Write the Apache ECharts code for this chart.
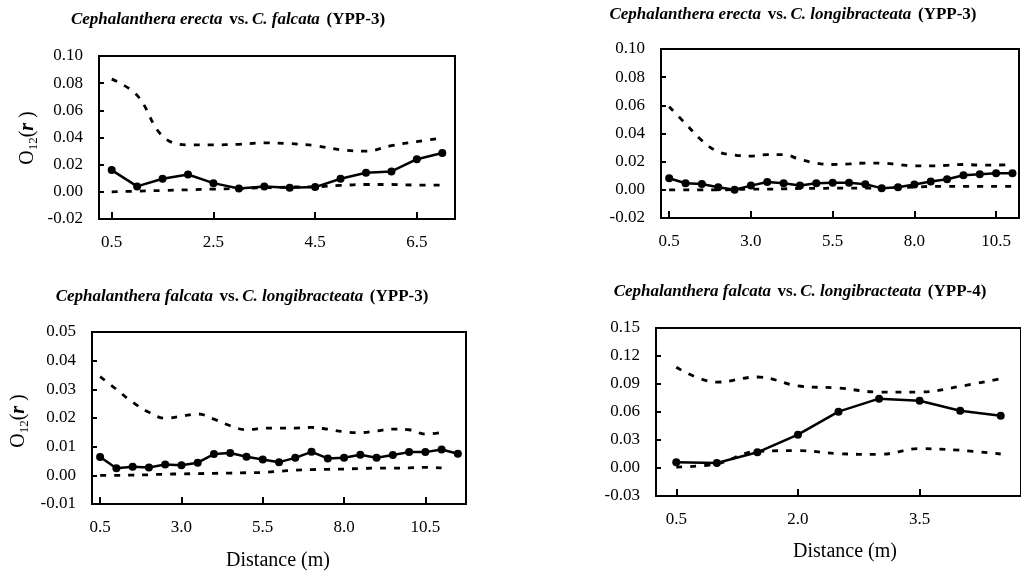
<!DOCTYPE html>
<html>
<head>
<meta charset="utf-8">
<script src="https://cdn.jsdelivr.net/npm/echarts@6/dist/echarts.min.js"></script>
<style>html,body{margin:0;padding:0;background:#fff;}#c{width:1021px;height:571px;}</style>
</head>
<body>
<div id="c"></div>
<script>
// ---- Panel 1: C. erecta vs C. falcata (YPP-3)
const dist1 = [0.5,1.0,1.5,2.0,2.5,3.0,3.5,4.0,4.5,5.0,5.5,6.0,6.5,7.0];
const obs1  = [0.016,0.004,0.0096,0.0128,0.0064,0.0025,0.004,0.003,0.0035,0.0096,0.014,0.015,0.024,0.0286];
const up1   = [0.083,0.071,0.041,0.0346,0.0346,0.035,0.036,0.0355,0.034,0.031,0.030,0.034,0.037,0.0397];
const lo1   = [0.0,0.0005,0.001,0.0015,0.002,0.0025,0.003,0.0035,0.0037,0.0047,0.0054,0.0054,0.005,0.005];
const xt1   = [0.5,2.5,4.5,6.5];

// ---- Panel 2: C. erecta vs C. longibracteata (YPP-3)
const dist2 = [0.5,1.0,1.5,2.0,2.5,3.0,3.5,4.0,4.5,5.0,5.5,6.0,6.5,7.0,7.5,8.0,8.5,9.0,9.5,10.0,10.5,11.0];
const obs2  = [0.0082,0.0047,0.0042,0.0019,0.0,0.003,0.0056,0.0047,0.003,0.0047,0.005,0.005,0.004,0.0012,0.0019,0.0038,0.0059,0.0075,0.0104,0.011,0.0118,0.0118];
const up2   = [0.059,0.047,0.035,0.027,0.0247,0.024,0.025,0.025,0.0216,0.019,0.018,0.0184,0.019,0.019,0.018,0.017,0.017,0.0174,0.018,0.0176,0.0176,0.018];
const lo2   = [0.0,0.0,0.0,0.0,0.0002,0.0005,0.0005,0.0007,0.001,0.001,0.0012,0.0012,0.0012,0.0014,0.0016,0.0019,0.0024,0.0024,0.0024,0.0024,0.0024,0.0024];
const xt2   = [0.5,3.0,5.5,8.0,10.5];

// ---- Panel 3: C. falcata vs C. longibracteata (YPP-3)
const dist3 = [0.5,1.0,1.5,2.0,2.5,3.0,3.5,4.0,4.5,5.0,5.5,6.0,6.5,7.0,7.5,8.0,8.5,9.0,9.5,10.0,10.5,11.0,11.5];
const obs3  = [0.0064,0.0025,0.003,0.0027,0.0038,0.0035,0.0044,0.0074,0.0078,0.0065,0.0055,0.0046,0.0061,0.0082,0.0059,0.0061,0.0072,0.0061,0.0071,0.0081,0.0081,0.009,0.0075];
const up3   = [0.0344,0.030,0.0255,0.022,0.0199,0.0206,0.0214,0.0196,0.0173,0.0159,0.0164,0.0165,0.0165,0.0167,0.0161,0.0152,0.0149,0.0155,0.0161,0.0159,0.0144,0.0150];
const lo3   = [0.0,0.0,0.0001,0.0002,0.0004,0.0005,0.0006,0.0007,0.0008,0.0009,0.001,0.0014,0.0018,0.002,0.0021,0.0022,0.0024,0.0025,0.0025,0.0026,0.0028,0.0026];
const xt3   = [0.5,3.0,5.5,8.0,10.5];

// ---- Panel 4: C. falcata vs C. longibracteata (YPP-4)
const dist4 = [0.5,1.0,1.5,2.0,2.5,3.0,3.5,4.0,4.5];
const obs4  = [0.0061,0.0054,0.0168,0.0357,0.0604,0.0743,0.0721,0.0614,0.0561];
const up4   = [0.108,0.092,0.0975,0.088,0.0857,0.0814,0.0814,0.0875,0.0957];
const lo4   = [0.001,0.0046,0.0179,0.0186,0.0154,0.0146,0.0207,0.019,0.015];
const xt4   = [0.5,2.0,3.5];

const titles = [
  {sp1:'Cephalanthera erecta', sp2:'C. falcata', plot:'(YPP-3)'},
  {sp1:'Cephalanthera erecta', sp2:'C. longibracteata', plot:'(YPP-3)'},
  {sp1:'Cephalanthera falcata', sp2:'C. longibracteata', plot:'(YPP-3)'},
  {sp1:'Cephalanthera falcata', sp2:'C. longibracteata', plot:'(YPP-4)'}
];
const xName = 'Distance (m)';

const FONT = '"Liberation Serif", "DejaVu Serif", serif';
const chart = echarts.init(document.getElementById('c'), null, {renderer:'canvas'});

const grids = [
  {left:99,  top:56,  width:356, height:163},
  {left:661, top:49,  width:358, height:169},
  {left:92,  top:332, width:374, height:172},
  {left:656, top:328, width:374, height:168}
];
const xr = [[0.25,7.25],[0.25,11.2],[0.25,11.75],[0.25,4.75]];
const yr = [[-0.02,0.10,0.02],[-0.02,0.10,0.02],[-0.01,0.05,0.01],[-0.03,0.15,0.03]];
const xts = [xt1,xt2,xt3,xt4];
const data = [
  [dist1,obs1,up1,lo1],[dist2,obs2,up2,lo2],[dist3,obs3,up3,lo3],[dist4,obs4,up4,lo4]
];

const xAxis = [], yAxis = [], series = [];
for (let i=0;i<4;i++){
  xAxis.push({
    type:'value', gridIndex:i, min:xr[i][0], max:xr[i][1],
    axisLine:{show:true, onZero:false, lineStyle:{color:'#000', width:2}},
    axisTick:{show:true, inside:true, length:7, customValues:xts[i], lineStyle:{color:'#000', width:2}},
    axisLabel:{customValues:xts[i], formatter:v=>v.toFixed(1), color:'#000', fontFamily:FONT, fontSize:17, margin:15},
    splitLine:{show:false}
  });
  yAxis.push({
    type:'value', gridIndex:i, min:yr[i][0], max:yr[i][1], interval:yr[i][2],
    axisLine:{show:true, onZero:false, lineStyle:{color:'#000', width:2}},
    axisTick:{show:true, inside:true, length:5, lineStyle:{color:'#000', width:2}},
    axisLabel:{formatter:v=>v.toFixed(2), color:'#000', fontFamily:FONT, fontSize:17, margin:16},
    splitLine:{show:false}
  });
  const [d,o,u,l] = data[i];
  const pair = (arr)=>arr.map((v,k)=>[d[k],v]);
  series.push({
    type:'line', xAxisIndex:i, yAxisIndex:i, data:pair(u), smooth:0.4, symbol:'none',
    lineStyle:{color:'#000', width:2.8, type:[6,8]}, z:2, silent:true
  });
  series.push({
    type:'line', xAxisIndex:i, yAxisIndex:i, data:pair(l), smooth:0.4, symbol:'none',
    lineStyle:{color:'#000', width:2.8, type:[6,8]}, z:2, silent:true
  });
  series.push({
    type:'line', xAxisIndex:i, yAxisIndex:i, data:pair(o), symbol:'circle', symbolSize:8,
    itemStyle:{color:'#000'}, lineStyle:{color:'#000', width:2.5}, z:3, silent:true
  });
}

const gridOpts = grids.map(g=>Object.assign({show:true, borderColor:'#000', borderWidth:2, backgroundColor:'transparent', containLabel:false}, g));

const titleRich = {
  i:{fontFamily:FONT, fontSize:17, fontStyle:'italic', fontWeight:'bold', fill:'#000'},
  b:{fontFamily:FONT, fontSize:17, fontWeight:'bold', fill:'#000'}
};
const titlePos = [[228,20],[793,15],[242,297],[800,292]];
const graphic = titles.map((t,i)=>({
  type:'text', x:titlePos[i][0], y:titlePos[i][1], silent:true,
  style:{text:'{i|'+t.sp1+'}  {b|vs.} {i|'+t.sp2+'}  {b|'+t.plot+'}', rich:titleRich, align:'center', verticalAlign:'middle', fill:'#000'}
}));
const yNameRich = {
  o:{fontFamily:FONT, fontSize:20, fill:'#000', lineHeight:24},
  s:{fontFamily:FONT, fontSize:13, fill:'#000', verticalAlign:'bottom', lineHeight:24},
  r:{fontFamily:FONT, fontSize:20, fontStyle:'italic', fontWeight:'bold', fill:'#000', lineHeight:24},
  p:{fontFamily:FONT, fontSize:20, fill:'#000', lineHeight:24}
};
[[28,138],[19,421]].forEach(p=>{
  graphic.push({type:'text', x:p[0], y:p[1], rotation:Math.PI/2, silent:true,
    style:{text:'{o|O}{s|12}{p|(}{r|r}{p| )}', rich:yNameRich, align:'center', verticalAlign:'middle', fill:'#000'}});
});
[[278,561],[845,552]].forEach(p=>{
  graphic.push({type:'text', x:p[0], y:p[1], silent:true,
    style:{text:xName, font:'20px '+FONT, fill:'#000', align:'center', verticalAlign:'middle'}});
});

chart.setOption({
  backgroundColor:'#fff',
  animation:false,
  grid:gridOpts,
  xAxis, yAxis, series, graphic
});
</script>
</body>
</html>
